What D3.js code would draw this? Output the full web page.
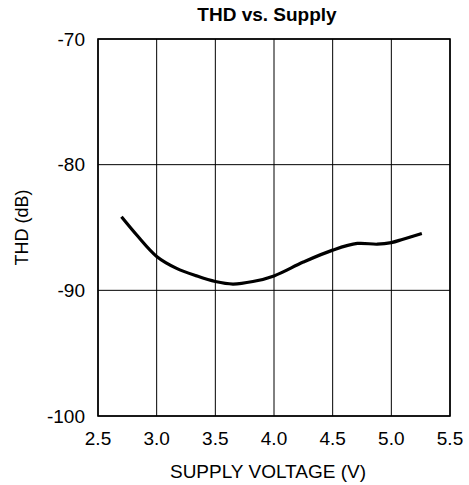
<!DOCTYPE html>
<html>
<head>
<meta charset="utf-8">
<script src="https://cdn.jsdelivr.net/npm/d3@7"></script>
<style>
  body { margin: 0; background: #fff; }
  text { font-family: "Liberation Sans", Arial, sans-serif; fill: #000; }
</style>
</head>
<body>
<div id="chart-area"></div>
<script>
// THD vs supply voltage
var voltage = [2.70, 2.83, 3.00, 3.17, 3.34, 3.50, 3.65, 3.82, 4.00, 4.25, 4.50, 4.71, 4.88, 5.00, 5.10, 5.26];
var thd = [-84.15, -85.6, -87.3, -88.25, -88.85, -89.3, -89.5, -89.3, -88.85, -87.75, -86.8, -86.27, -86.33, -86.2, -85.93, -85.47];

var xTicks = [2.5, 3.0, 3.5, 4.0, 4.5, 5.0, 5.5];
var yTicks = [-100, -90, -80, -70];

var svg = d3.select("#chart-area").append("svg")
     .attr("width", 469)
     .attr("height", 485)
     .style("display", "block");

// plot box (window.top is reserved, so use other names)
var plotL = 98, plotR = 450, plotT = 39, plotB = 416;

var x = d3.scaleLinear()
     .domain([2.5, 5.5])
     .range([plotL, plotR]);

var y = d3.scaleLinear()
     .domain([-100, -70])
     .range([plotB, plotT]);

// grid
svg.selectAll(".vgrid")
     .data(xTicks)
     .enter()
     .append("line")
     .attr("x1", (d) => x(d))
     .attr("x2", (d) => x(d))
     .attr("y1", plotT)
     .attr("y2", plotB)
     .attr("stroke", "#000")
     .attr("stroke-width", 1);

svg.selectAll(".hgrid")
     .data(yTicks)
     .enter()
     .append("line")
     .attr("x1", plotL)
     .attr("x2", plotR)
     .attr("y1", (d) => y(d))
     .attr("y2", (d) => y(d))
     .attr("stroke", "#000")
     .attr("stroke-width", 1);

// frame
svg.append("rect")
     .attr("x", plotL)
     .attr("y", plotT)
     .attr("width", plotR - plotL)
     .attr("height", plotB - plotT)
     .attr("fill", "none")
     .attr("stroke", "#000")
     .attr("stroke-width", 1.6);

// tick labels
svg.selectAll(".xlab")
     .data(xTicks)
     .enter()
     .append("text")
     .attr("x", (d) => x(d))
     .attr("y", 445)
     .attr("text-anchor", "middle")
     .attr("font-size", "19px")
     .text((d) => d.toFixed(1));

svg.selectAll(".ylab")
     .data(yTicks)
     .enter()
     .append("text")
     .attr("x", plotL - 13)
     .attr("y", (d) => y(d))
     .attr("dy", "0.35em")
     .attr("text-anchor", "end")
     .attr("font-size", "19px")
     .text((d) => d);

// curve
var line = d3.line()
     .x((d, i) => x(voltage[i]))
     .y((d) => y(d))
     .curve(d3.curveCatmullRom.alpha(0.5));

svg.append("path")
     .datum(thd)
     .attr("d", line)
     .attr("fill", "none")
     .attr("stroke", "#000")
     .attr("stroke-width", 3.2);

// titles
svg.append("text")
     .attr("x", 267)
     .attr("y", 21)
     .attr("text-anchor", "middle")
     .attr("font-size", "19px")
     .attr("font-weight", "bold")
     .text("THD vs. Supply");

svg.append("text")
     .attr("x", 268)
     .attr("y", 478)
     .attr("text-anchor", "middle")
     .attr("font-size", "19px")
     .text("SUPPLY VOLTAGE (V)");

svg.append("text")
     .attr("transform", "translate(28," + ((plotT + plotB) / 2) + ") rotate(-90)")
     .attr("text-anchor", "middle")
     .attr("font-size", "18px")
     .text("THD (dB)");
</script>
</body>
</html>
